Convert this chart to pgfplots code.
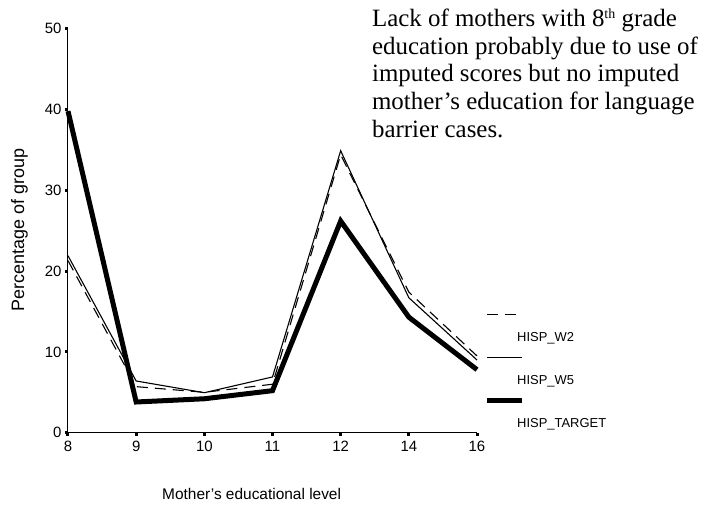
\documentclass[border=0pt]{standalone}
\usepackage{fontspec}
\setmainfont{Liberation Serif}
\setsansfont{Liberation Sans}
\usepackage{pgfplots}
\pgfplotsset{compat=1.18}
\begin{document}
\begin{tikzpicture}
\useasboundingbox (-68bp,-72.3bp) rectangle (654bp,432.7bp);
\begin{axis}[
  scale only axis,
  width=409bp, height=404bp,
  xmin=0, xmax=6, ymin=0, ymax=50,
  axis lines=left,
  axis line style={-, line width=1bp},
  xtick={0,1,2,3,4,5,6},
  xticklabels={8,9,10,11,12,14,16},
  ytick={0,10,20,30,40,50},
  tick align=outside,
  major tick length=3bp,
  tick style={black, line width=3bp},
  /pgf/number format/assume math mode=true,
  ticklabel style={font=\sffamily\fontsize{15}{15}\selectfont},
  xticklabel style={yshift=-2bp},
  xlabel={Mother's educational level},
  ylabel={Percentage of group},
  xlabel style={font=\sffamily\fontsize{15.5}{15.5}\selectfont, at={(axis description cs:0.449,-0.1655)}, anchor=base},
  ylabel style={font=\sffamily\fontsize{18}{18}\selectfont, at={(axis description cs:-0.1186,0.502)}, anchor=center},
  clip=false,
  legend style={at={(axis cs:6.147,12.52)}, anchor=north west, draw=none, fill=none,
    inner sep=0pt, row sep=30bp,
    nodes={font=\sffamily\fontsize{13}{13}\selectfont, inner sep=0pt, text height=10bp, text depth=3bp}},
  legend cell align=left,
  legend image code/.code={\draw[#1, overlay] (0bp,24bp) -- (35bp,24bp); \path[draw=none, fill=none] (0bp,0bp) rectangle (30bp,0bp);},
]
\addplot[black, line width=1.1bp, dash pattern=on 11bp off 7bp] coordinates {
  (0,21.3) (1,5.7) (2,5.0) (3,6.0) (4,34.4) (5,17.4) (6,9.5)};
\addlegendentry{HISP\_W2}
\addplot[black, line width=1.1bp] coordinates {
  (0,21.9) (1,6.4) (2,4.95) (3,6.9) (4,34.9) (5,16.7) (6,9.0)};
\addlegendentry{HISP\_W5}
\addplot[black, line width=5bp] coordinates {
  (0,39.8) (1,3.8) (2,4.2) (3,5.2) (4,26.2) (5,14.3) (6,7.8)};
\addlegendentry{HISP\_TARGET}
\node[anchor=base west, inner sep=0pt, align=left,
  font=\fontsize{25}{27.8}\selectfont] at (rel axis cs:0.743,0.7314)
  {Lack of mothers with 8\raisebox{8bp}{\fontsize{14}{14}\selectfont th} grade\\ education probably due to use of\\ imputed scores but no imputed\\ mother's education for language\\ barrier cases.};
\end{axis}
\end{tikzpicture}
\end{document}
